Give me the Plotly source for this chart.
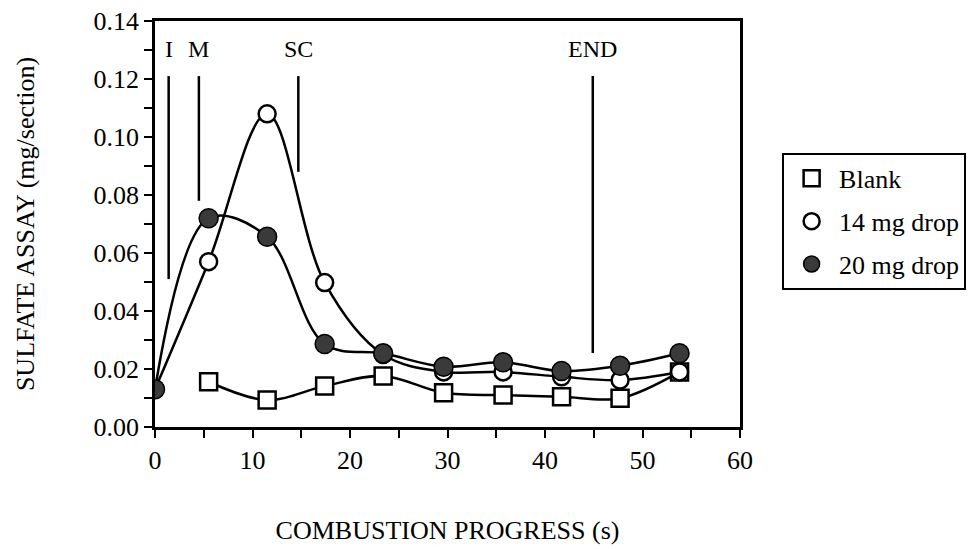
import plotly.graph_objects as go

# ---- data ----
time_s = [0, 5.5, 11.5, 17.4, 23.4, 29.6, 35.7, 41.7, 47.7, 53.8]
blank_time = [5.5, 11.5, 17.4, 23.4, 29.6, 35.7, 41.7, 47.7, 53.8]
blank = [0.0156, 0.0093, 0.0141, 0.0176, 0.0118, 0.0110, 0.0104, 0.0099, 0.0190]
drop14 = [0.0130, 0.0570, 0.1080, 0.0498, 0.0250, 0.0190, 0.0190, 0.0173, 0.0162, 0.0190]
drop20 = [0.0130, 0.0720, 0.0656, 0.0286, 0.0254, 0.0208, 0.0223, 0.0193, 0.0211, 0.0254]

event_labels = ["I", "M", "SC", "END"]
event_x = [1.4, 4.5, 14.7, 44.9]
event_top = [0.121, 0.121, 0.121, 0.121]
event_bottom = [0.051, 0.078, 0.088, 0.0255]

x_ticks = [0, 10, 20, 30, 40, 50, 60]
y_ticks = [0.00, 0.02, 0.04, 0.06, 0.08, 0.10, 0.12, 0.14]

FONT = "Liberation Serif"
BLACK = "black"
FILL_DARK = "#3a3a3a"

fig = go.Figure()

# event markers (vertical lines)
for lab, xv, top, bot in zip(event_labels, event_x, event_top, event_bottom):
    fig.add_trace(go.Scatter(x=[xv, xv], y=[bot, top], mode="lines",
                             line=dict(color=BLACK, width=2.5),
                             showlegend=False, hoverinfo="skip"))
    fig.add_annotation(x=xv, y=0.1305, text=lab, showarrow=False,
                       xanchor="center", yanchor="middle",
                       font=dict(family=FONT, size=24, color=BLACK))

# smooth connecting curves
for xs, ys in [(blank_time, blank), (time_s, drop14), (time_s, drop20)]:
    fig.add_trace(go.Scatter(x=xs, y=ys, mode="lines",
                             line=dict(color=BLACK, width=2.5, shape="spline", smoothing=1.0),
                             showlegend=False, hoverinfo="skip"))

# markers (shown in legend)
fig.add_trace(go.Scatter(x=blank_time, y=blank, mode="markers", name="Blank",
                         legendgroup="a",
                         marker=dict(symbol="square", size=17, color="white",
                                     line=dict(color=BLACK, width=2.5))))
fig.add_trace(go.Scatter(x=time_s, y=drop14, mode="markers", name="14 mg drop",
                         legendgroup="b",
                         marker=dict(symbol="circle", size=17, color="white",
                                     line=dict(color=BLACK, width=2.5))))
fig.add_trace(go.Scatter(x=time_s, y=drop20, mode="markers", name="20 mg drop",
                         legendgroup="c",
                         marker=dict(symbol="circle", size=19, color=FILL_DARK,
                                     line=dict(color=BLACK, width=1.5))))

axis_common = dict(showline=True, linecolor=BLACK, linewidth=2.5, mirror=True,
                   ticks="outside", tickcolor=BLACK, tickwidth=2, ticklen=8,
                   showgrid=False, zeroline=False, ticklabeloverflow="allow",
                   tickfont=dict(family=FONT, size=26, color=BLACK))

fig.update_xaxes(range=[0, 60], tickvals=x_ticks, ticktext=[str(v) for v in x_ticks],
                 minor=dict(dtick=5, tick0=0, ticks="outside", ticklen=8, tickwidth=2,
                            tickcolor=BLACK, showgrid=False),
                 title=dict(text="COMBUSTION PROGRESS (s)", standoff=47,
                            font=dict(family=FONT, size=26, color=BLACK)),
                 **axis_common)
fig.update_yaxes(range=[0, 0.14], tickvals=y_ticks, ticktext=[f"{v:.2f}" for v in y_ticks],
                 minor=dict(dtick=0.01, tick0=0, ticks="outside", ticklen=8, tickwidth=2,
                            tickcolor=BLACK, showgrid=False),
                 title=dict(text="SULFATE ASSAY (mg/section)", standoff=52,
                            font=dict(family=FONT, size=26, color=BLACK)),
                 **axis_common)

# page body adds an 8 px offset; margins compensate so the plot area lands
# at screen x 155..740, y 21..427
fig.update_layout(
    width=976, height=549,
    margin=dict(l=147, r=244, t=13, b=130, autoexpand=False),
    paper_bgcolor="white", plot_bgcolor="white",
    font=dict(family=FONT, color=BLACK),
    legend=dict(x=1.072, y=0.675, xanchor="left", yanchor="top",
                bordercolor=BLACK, borderwidth=2, bgcolor="white",
                font=dict(family=FONT, size=26, color=BLACK),
                tracegroupgap=6, itemwidth=45, traceorder="grouped"),
)

fig.write_html("out.html")
